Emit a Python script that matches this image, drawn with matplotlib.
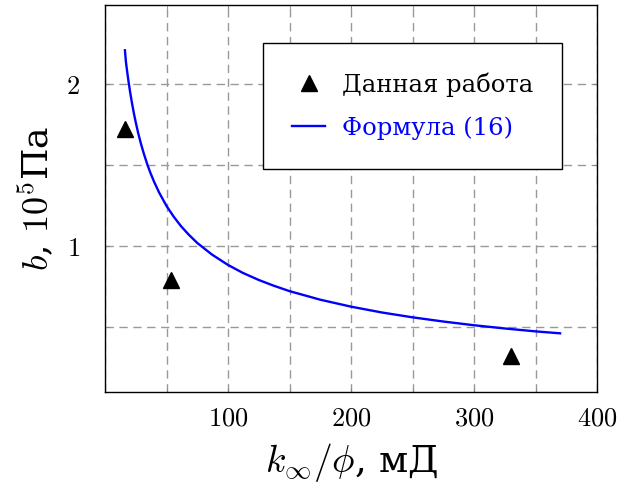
import matplotlib
matplotlib.use("Agg")
import matplotlib.pyplot as plt
from matplotlib.ticker import MultipleLocator, FuncFormatter

plt.rcParams['font.family'] = ['DejaVu Serif']
plt.rcParams['mathtext.fontset'] = 'cm'

# Data
work_x = [16.2, 54, 330]
work_y = [1.72, 0.79, 0.32]

formula_x = [16.2, 17, 18, 19.2, 20.5, 22, 23.5, 25, 27, 29, 31.5, 34.6, 37, 40, 44,
             50, 56, 62, 68, 75, 87, 100, 112, 125, 137, 150, 175, 200, 225, 250,
             275, 300, 325, 350, 370]
formula_y = [2.21, 2.139, 2.079, 2.013, 1.948, 1.881, 1.819, 1.764, 1.697, 1.638,
             1.572, 1.499, 1.450, 1.395, 1.330, 1.247, 1.179, 1.120, 1.070, 1.018,
             0.946, 0.882, 0.833, 0.789, 0.754, 0.720, 0.667, 0.624, 0.588, 0.558,
             0.532, 0.509, 0.489, 0.471, 0.459]

xticks = [100, 200, 300, 400]
yticks = [1, 2]

fig = plt.figure(figsize=(6.35, 4.90), dpi=100)
ax = fig.add_axes([105/635, 1-392/490, (597-105)/635, (392-5)/490])

ax.plot(formula_x, formula_y, color='#0000ff', lw=1.7, label='Формула (16)', zorder=3)
ax.plot(work_x, work_y, linestyle='none', marker='^', color='black', ms=12,
        label='Данная работа', zorder=4)

ax.set_xlim(0, 400)
ax.set_ylim(0.096, 2.49)
ax.set_xticks(xticks)
ax.set_yticks(yticks)
ax.xaxis.set_minor_locator(MultipleLocator(50))
ax.yaxis.set_minor_locator(MultipleLocator(0.5))
fmt = FuncFormatter(lambda v, p: f"${v:g}$")
ax.xaxis.set_major_formatter(fmt)
ax.yaxis.set_major_formatter(fmt)
ax.tick_params(which='both', direction='in', top=True, right=True, length=3,
               color='#888888', labelsize=19)
ax.tick_params(axis='x', pad=10)
ax.tick_params(axis='y', pad=18)
ax.grid(True, which='both', color='#999999', linestyle=(0, (6, 4)), lw=1.0)
ax.set_axisbelow(True)
for s in ax.spines.values():
    s.set_linewidth(1.0)

ax.set_xlabel(r"$k_\infty/\phi$, мД", fontsize=27, labelpad=7)
ax.set_ylabel(r"$b$, $10^5$Па", fontsize=26, labelpad=8)

handles, labels = ax.get_legend_handles_labels()
leg = ax.legend(handles[::-1], labels[::-1], loc='upper left',
                bbox_to_anchor=((263-105)/492, 1-(43-5)/387), borderaxespad=0,
                fontsize=17.5, frameon=True, fancybox=False, edgecolor='black',
                framealpha=1, borderpad=1.2, handlelength=1.35, handletextpad=0.7,
                labelspacing=0.8)
leg.get_frame().set_linewidth(1.0)
for t in leg.get_texts():
    if t.get_text().startswith('Формула'):
        t.set_color('#0000ff')

fig.savefig('out.png', dpi=100)
